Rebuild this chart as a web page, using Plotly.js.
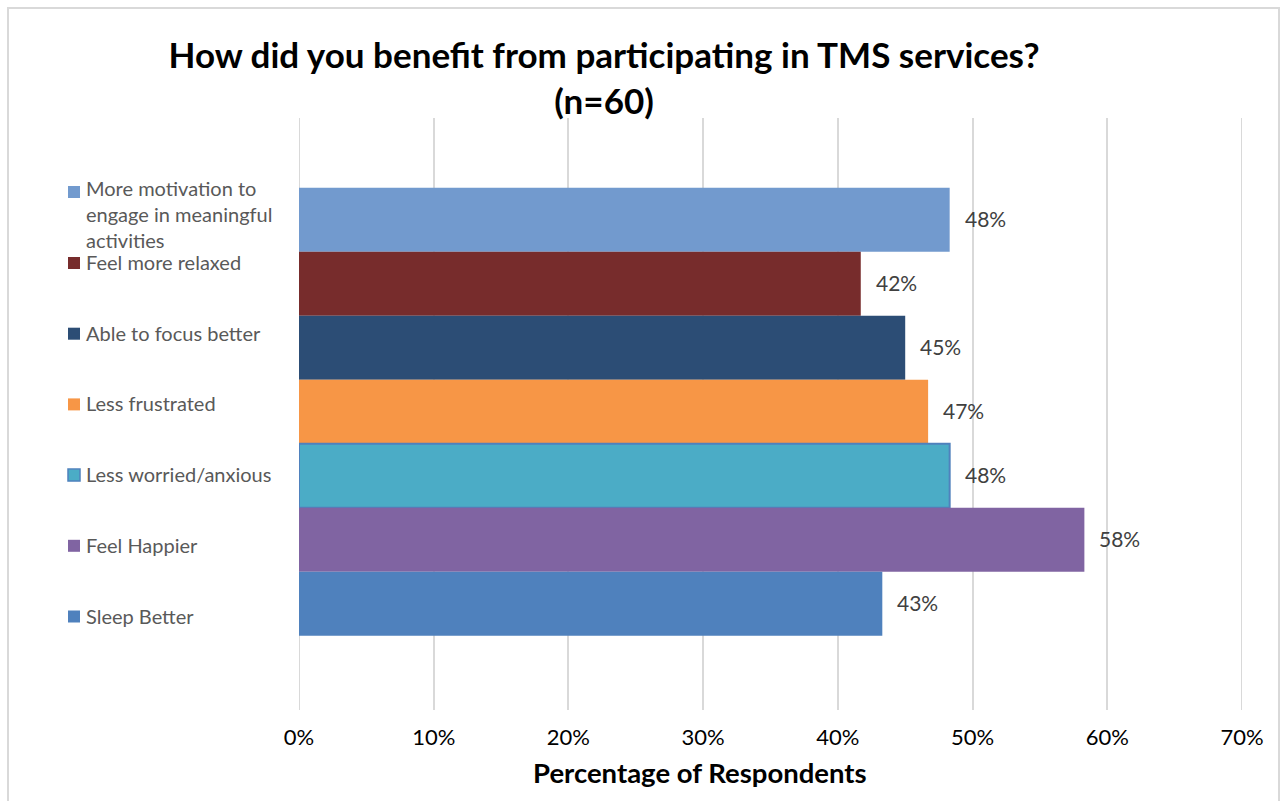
<!DOCTYPE html>
<html><head><meta charset="utf-8">
<script src="https://cdn.plot.ly/plotly-3.0.1.min.js"></script>
<style>html,body{margin:0;padding:0;background:#fff}#chart{width:1287px;height:801px}</style>
</head><body><div id="chart"></div>
<script>
// ---- data ----
const seriesNames = ["More motivation to engage in meaningful activities", "Feel more relaxed", "Able to focus better", "Less frustrated", "Less worried/anxious", "Feel Happier", "Sleep Better"];
const legendLabels = ["More motivation to<br>engage in meaningful<br>activities", "Feel more relaxed", "Able to focus better", "Less frustrated", "Less worried/anxious", "Feel Happier", "Sleep Better"];
const values = [0.483, 0.417, 0.45, 0.467, 0.483, 0.583, 0.433];
const barColors = ["#729ACE", "#772C2C", "#2C4D75", "#F79646", "#4BACC6", "#8064A2", "#4F81BD"];
const borderColors = [null, null, null, null, "#4F81BD", null, null];
const xTickValues = [0, 0.1, 0.2, 0.3, 0.4, 0.5, 0.6, 0.7];
const xTickLabels = ["0%", "10%", "20%", "30%", "40%", "50%", "60%", "70%"];
const titleText = "How did you benefit from participating in TMS services?<br>(n=60)";
const xTitleText = "Percentage of Respondents";

// ---- layout helpers ----
const W = 1287, H = 801, L = 299, R = 45, T = 118, B = 91;
const pw = W - L - R, ph = H - T - B;
const px2x = p => (p - L) / pw;
const py2y = p => (H - B - p) / ph;
const n = values.length;
const FONT = "Lato, 'Open Sans', sans-serif";

const traces = values.map((v, i) => ({
  type: 'bar', orientation: 'h', x: [v], y: [n - 1 - i], width: 1,
  name: seriesNames[i],
  marker: { color: barColors[i], line: { color: borderColors[i] || barColors[i], width: borderColors[i] ? 2 : 0 } },
  hovertemplate: seriesNames[i] + ': %{x:.0%}<extra></extra>',
  showlegend: false
}));

const annotations = [];
const shapes = [];
// edge gridlines (0% and 70%)
[xTickValues[0], xTickValues[xTickValues.length - 1]].forEach(v => {
  shapes.push({ type: 'line', xref: 'x', yref: 'paper', x0: v, x1: v, y0: 0, y1: 1, layer: 'below',
    line: { color: '#D9D9D9', width: 2 } });
});
// data labels
values.forEach((v, i) => {
  annotations.push({
    x: v, y: n - 1 - i, xref: 'x', yref: 'y', xanchor: 'left', yanchor: 'middle',
    xshift: 13, yshift: 1, showarrow: false, text: Math.round(v * 100) + '%',
    font: { family: FONT, size: 21, color: '#404040' }
  });
});
// legend (manual, matching the reference layout)
const legStart = 192, legStep = 70.7;
legendLabels.forEach((lab, i) => {
  const cy = legStart + (i === 0 ? 0 : 71 + (i - 1) * legStep);
  shapes.push({
    type: 'rect', xref: 'paper', yref: 'paper',
    x0: px2x(68), x1: px2x(80), y0: py2y(cy + 6), y1: py2y(cy - 6),
    fillcolor: barColors[i], line: { color: borderColors[i] || barColors[i], width: borderColors[i] ? 1.5 : 0 }
  });
  const textTop = cy - (i === 0 ? 17.5 : 15);
  annotations.push({
    x: px2x(84), y: py2y(textTop), xref: 'paper', yref: 'paper', xanchor: 'left', yanchor: 'top',
    align: 'left', showarrow: false, text: lab,
    font: { family: FONT, size: 20, color: '#595959' }
  });
});
// x-axis title
annotations.push({
  x: px2x(700), y: py2y(772), xref: 'paper', yref: 'paper', xanchor: 'center', yanchor: 'middle',
  showarrow: false, text: '<b>' + xTitleText + '</b>',
  font: { family: FONT, size: 27.5, color: '#000000' }
});
// chart border
shapes.push({
  type: 'rect', xref: 'paper', yref: 'paper', layer: 'below',
  x0: px2x(8), x1: px2x(1279), y0: py2y(830), y1: py2y(8),
  line: { color: '#D9D9D9', width: 2 }, fillcolor: 'rgba(0,0,0,0)'
});

const layout = {
  width: W, height: H,
  margin: { l: L, r: R, t: T, b: B, pad: 0 },
  paper_bgcolor: '#ffffff', plot_bgcolor: '#ffffff',
  barmode: 'overlay',
  showlegend: false,
  title: {
    text: '<b>' + titleText + '</b>', x: 604 / W, xanchor: 'center', xref: 'container',
    y: 1 - 68 / H, yanchor: 'top',
    font: { family: FONT, size: 35, color: '#000000' }
  },
  xaxis: {
    range: [0, 0.7], tickvals: xTickValues, ticktext: xTickLabels,
    showgrid: true, gridcolor: '#D9D9D9', gridwidth: 2,
    zeroline: false, showline: false,
    ticks: 'outside', ticklen: 8, tickcolor: 'rgba(0,0,0,0)',
    tickfont: { family: FONT, size: 22, color: '#000000' },
    fixedrange: true
  },
  yaxis: {
    range: [-1.66, 7.59], showgrid: false, zeroline: false, showline: false,
    showticklabels: false, ticks: '', fixedrange: true
  },
  shapes: shapes,
  annotations: annotations,
  font: { family: FONT }
};

Plotly.newPlot('chart', traces, layout, { displayModeBar: false });
</script>
</body></html>
